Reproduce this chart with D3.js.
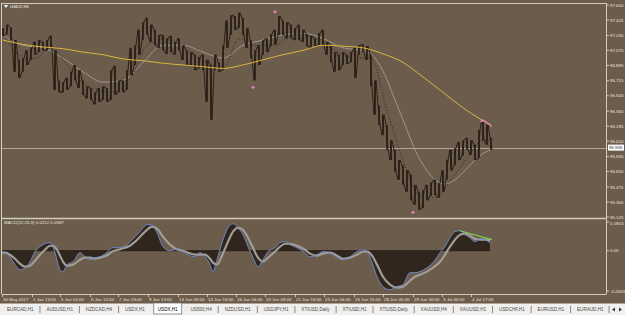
<!DOCTYPE html>
<html><head><meta charset="utf-8">
<script src="https://cdn.jsdelivr.net/npm/d3@7"></script>
<style>body{margin:0;background:#6b5c4b;overflow:hidden}svg{display:block}</style>
</head><body><svg id="c" width="625" height="315"></svg>
<script>
// ---------- DATA ----------
const symbol = "USDX,H1";
const priceHigh = [97.33,97.37,97.34,97.19,96.96,96.98,97.07,97.10,97.17,97.19,97.17,97.19,97.24,97.07,96.72,96.70,96.75,96.82,96.90,96.84,96.72,96.65,96.63,96.58,96.63,96.65,96.63,96.84,96.89,96.72,96.72,96.84,97.10,97.13,97.31,97.40,97.45,97.37,97.31,97.25,97.25,97.21,97.24,97.17,97.21,97.13,97.07,97.05,97.02,96.99,97.02,96.96,96.90,97.02,96.93,97.13,97.42,97.48,97.47,97.51,97.45,97.33,97.19,97.07,97.13,97.19,97.21,97.26,97.31,97.47,97.42,97.40,97.37,97.33,97.37,97.31,97.26,97.24,97.21,97.27,97.31,97.17,97.13,97.05,97.02,97.05,97.02,97.05,97.10,97.13,97.14,97.12,97.02,96.72,96.43,96.32,96.20,96.02,95.91,95.79,95.73,95.67,95.62,95.50,95.42,95.44,95.50,95.53,95.56,95.52,95.67,95.79,95.91,95.93,96.00,96.02,96.05,96.02,95.97,96.14,96.26,96.20,96.05];
const priceLow = [97.24,97.26,97.19,96.82,96.75,96.82,96.90,96.96,97.02,97.05,97.07,97.07,97.10,96.61,96.58,96.58,96.61,96.65,96.72,96.63,96.55,96.51,96.49,96.44,96.47,96.49,96.47,96.49,96.55,96.58,96.58,96.61,96.78,96.90,97.02,97.19,97.25,97.17,97.13,97.10,97.07,97.03,97.05,97.02,97.07,96.96,96.90,96.89,96.84,96.86,96.84,96.47,96.26,96.84,96.82,96.84,97.10,97.25,97.31,97.33,97.25,97.10,96.98,96.72,96.90,97.02,97.05,97.12,97.14,97.25,97.25,97.21,97.21,97.19,97.19,97.17,97.12,97.10,97.12,97.13,97.13,97.02,96.93,96.82,96.84,96.90,96.91,96.93,96.75,97.02,97.05,96.96,96.65,96.32,96.20,96.08,95.91,95.79,95.65,95.56,95.50,95.42,95.32,95.27,95.21,95.23,95.32,95.37,95.38,95.35,95.42,95.56,95.67,95.73,95.79,95.84,95.91,95.85,95.79,95.81,96.02,95.97,95.91];
const lastPrice = 95.935;

const maSlowSlot = [3,23,43,63,83,103,123,143,163,183,203,223,243,263,283,303,323,343,363,383,403,423,443,463,483,491];
const maSlow = [97.19,97.14,97.11,97.09,97.05,97.02,96.97,96.95,96.92,96.90,96.88,96.86,96.90,96.96,97.02,97.07,97.13,97.12,97.10,97.03,96.93,96.76,96.58,96.40,96.25,96.20];

const maMidSlot = [3,23,43,63,83,103,123,143,163,183,203,223,243,263,283,303,323,343,363,375,385,395,405,415,425,435,445,455,465,475,485,491];
const maMid = [97.25,97.13,97.10,96.98,96.82,96.70,96.72,96.93,97.13,97.13,97.05,96.98,97.13,97.19,97.25,97.27,97.21,97.10,97.07,96.98,96.78,96.49,96.20,95.91,95.70,95.56,95.51,95.56,95.67,95.79,95.88,95.91];

const maFastSlot = [3,19,35,51,71,91,111,131,147,167,187,207,223,239,255,275,295,315,335,355,371,387,403,419,435,451,467,483,491];
const maFast = [97.28,97.02,96.98,97.10,96.84,96.63,96.58,96.75,97.13,97.21,97.07,96.93,96.86,97.21,97.13,97.13,97.27,97.21,97.07,96.98,96.98,96.37,95.79,95.38,95.35,95.56,95.81,96.02,96.02];

const fractalSlot = [275,253,482,413];
const fractalPrice = [97.52,96.64,96.25,95.18];

const divPriceSlot = [483,492];
const divPrice = [96.26,96.18];

const priceTicks = ["97.600","97.425","97.245","97.070","96.895","96.715","96.540","96.360","96.185","96.010","95.830","95.655","95.475","95.300","95.125"];

const macdSlot = [0,5,10,15,20,25,30,35,40,45,50,53,57,60,63,67,73,80,85,90,95,100,108,112,118,125,130,135,140,147,152,157,163,170,178,183,188,195,200,205,210,213,217,222,228,233,238,243,248,253,258,263,268,275,280,285,290,297,305,310,317,323,330,337,343,350,357,363,367,372,377,383,390,397,403,410,415,420,427,433,440,445,450,455,460,465,470,475,480,485,490];
const macdMain = [-0.006,-0.013,-0.039,-0.090,-0.123,-0.110,-0.071,-0.006,0.026,0.045,0.052,0.026,-0.058,-0.123,-0.135,-0.090,-0.071,-0.013,-0.039,-0.058,-0.045,-0.039,-0.006,0.019,0.019,0.026,0.058,0.090,0.123,0.168,0.168,0.116,0.026,0,0.013,-0.006,-0.026,-0.039,-0.013,-0.039,-0.090,-0.135,-0.058,0.052,0.148,0.174,0.148,0.103,0.026,-0.045,-0.103,-0.058,-0.006,0.019,0.052,0.058,0.039,0.019,-0.013,-0.039,-0.026,-0.006,-0.013,-0.045,-0.058,-0.039,-0.006,0.006,-0.006,-0.077,-0.168,-0.232,-0.252,-0.232,-0.219,-0.142,-0.142,-0.135,-0.110,-0.077,-0.013,0.026,0.084,0.123,0.129,0.103,0.084,0.058,0.077,0.071,0.052];
const macdSignal = [-0.013,-0.013,-0.026,-0.052,-0.084,-0.103,-0.097,-0.065,-0.026,0.006,0.032,0.032,0.006,-0.032,-0.071,-0.097,-0.090,-0.058,-0.045,-0.045,-0.052,-0.045,-0.026,-0.006,0.006,0.019,0.032,0.058,0.090,0.135,0.155,0.142,0.090,0.039,0.006,0,-0.013,-0.026,-0.026,-0.026,-0.052,-0.077,-0.090,-0.032,0.058,0.123,0.148,0.135,0.084,0.019,-0.045,-0.071,-0.045,-0.006,0.026,0.045,0.045,0.032,0.006,-0.019,-0.032,-0.019,-0.013,-0.032,-0.052,-0.045,-0.026,-0.006,-0.006,-0.032,-0.090,-0.168,-0.219,-0.239,-0.232,-0.194,-0.168,-0.155,-0.135,-0.110,-0.071,-0.026,0.026,0.071,0.103,0.110,0.097,0.077,0.071,0.071,0.065];
const macdLabel = "MACD(12,26,9) 0.0212 0.0587";
const macdTicks = ["0.1853","0.00","-0.2603"];
const divMacdSlot = [460,492];
const divMacd = [0.129,0.071];

const timeLabels = ["30 May 2017","1 Jun 13:00","5 Jun 01:00","6 Jun 12:00","7 Jun 23:00","9 Jun 13:00","13 Jun 03:00","14 Jun 14:00","16 Jun 04:00","20 Jun 03:00","21 Jun 14:00","23 Jun 04:00","26 Jun 15:00","28 Jun 05:00","29 Jun 16:00","3 Jul 06:00","4 Jul 17:00"];
const timeSlot = [2,32,60,90,118,148,178,207,236,265,295,324,354,383,413,442,471];

const tabs = ["EURCAD,H1","AUDUSD,H1","NZDCAD,H4","USDX,H1","USDX,H1","US500,H4","NZDUSD,H1","USDJPY,H1","XTIUSD,Daily","XTIUSD,H1","XTIUSD,Daily","XAUUSD,H4","XAUUSD,H1","USDCHF,H1","EURUSD,H1","EURAUD,H1"];
const activeTab = 4;

// ---------- DRAW ----------
const svg = d3.select("#c");
const W = 625, H = 315;
const L = 2, R = 606, mainTop = 3, mainBot = 218, macdTop = 220, macdBot = 294;
const font = "'Liberation Sans Narrow','Liberation Sans', Arial, sans-serif";
const frame = "#d2cbc0", txt = "#ebe6dc", bar = "#2b2119";
const fs = 4.4;

svg.append("rect").attr("width", W).attr("height", H).attr("fill", "#6b5c4b");

const x = d3.scaleLinear().domain([0, 600]).range([0, 600]);
const y = d3.scaleLinear().domain([95.125, 97.600]).range([217, 5]);
const ym = d3.scaleLinear().domain([-0.2603, 0.1853]).range([291, 222]);

const defs = svg.append("defs");
defs.append("clipPath").attr("id","cm").append("rect").attr("x",L).attr("y",mainTop).attr("width",R-L).attr("height",mainBot-mainTop);
defs.append("clipPath").attr("id","cd").append("rect").attr("x",L).attr("y",macdTop).attr("width",R-L).attr("height",macdBot-macdTop);

const gm = svg.append("g").attr("clip-path","url(#cm)");
gm.append("line").attr("x1",L).attr("x2",R).attr("y1",Math.round(y(lastPrice))+0.5).attr("y2",Math.round(y(lastPrice))+0.5)
  .attr("stroke","#b3a897").attr("stroke-width",1);

const priceData = priceHigh.map((h,i)=>({slot:3+4*i, h, l:priceLow[i]}));

gm.append("path").attr("d", d3.line().x((d,i)=>x(maMidSlot[i])).y(d=>y(d)).curve(d3.curveMonotoneX)(maMid))
  .attr("fill","none").attr("stroke","#9c978f").attr("stroke-width",1);
gm.selectAll("rect.b").data(priceData).join("rect").attr("class","b")
  .attr("x",d=>x(d.slot)-0.9).attr("width",1.8)
  .attr("y",d=>y(d.h)).attr("height",d=>Math.max(1,y(d.l)-y(d.h)))
  .attr("fill",bar);
const zz = [];
priceData.forEach((d,i)=>{
  if(i%2===0){ zz.push([x(d.slot)-1, y(d.h)]); zz.push([x(d.slot)+1, y(d.l)]); }
  else { zz.push([x(d.slot)-1, y(d.l)]); zz.push([x(d.slot)+1, y(d.h)]); }
});
gm.append("path").attr("d", d3.line()(zz)).attr("fill","none").attr("stroke",bar).attr("stroke-width",1);
gm.append("path").attr("d", d3.line().x((d,i)=>x(maFastSlot[i])).y(d=>y(d)).curve(d3.curveMonotoneX)(maFast))
  .attr("fill","none").attr("stroke","#2b2119").attr("stroke-width",0.9).attr("stroke-dasharray","1,2");
gm.append("path").attr("d", d3.line().x((d,i)=>x(maSlowSlot[i])).y(d=>y(d)).curve(d3.curveMonotoneX)(maSlow))
  .attr("fill","none").attr("stroke","#dcb43a").attr("stroke-width",1);
gm.append("path").attr("d", d3.line().x((d,i)=>x(divPriceSlot[i])).y(d=>y(d))(divPrice))
  .attr("fill","none").attr("stroke","#e08aa8").attr("stroke-width",1.2);
gm.selectAll("circle.f").data(fractalPrice).join("circle").attr("class","f")
  .attr("cx",(d,i)=>x(fractalSlot[i])).attr("cy",d=>y(d)).attr("r",1.5).attr("fill","#d883b6");

// MACD panel
const gd = svg.append("g").attr("clip-path","url(#cd)");
gd.append("path").attr("d", d3.area().x((d,i)=>x(macdSlot[i])).y0(ym(0)).y1(d=>ym(d)).curve(d3.curveMonotoneX)(macdMain))
  .attr("fill","#30261d");
gd.append("line").attr("x1",L).attr("x2",x(macdSlot[macdSlot.length-1])).attr("y1",ym(0)).attr("y2",ym(0)).attr("stroke",bar).attr("stroke-width",1);
gd.append("path").attr("d", d3.line().x((d,i)=>x(macdSlot[i])).y(d=>ym(d)).curve(d3.curveMonotoneX)(macdSignal))
  .attr("fill","none").attr("stroke","#a19c94").attr("stroke-width",2.2);
gd.append("path").attr("d", d3.line().x((d,i)=>x(macdSlot[i])).y(d=>ym(d)).curve(d3.curveMonotoneX)(macdMain))
  .attr("fill","none").attr("stroke","#6f8fd8").attr("stroke-width",0.9);
gd.append("path").attr("d", d3.line().x((d,i)=>x(divMacdSlot[i])).y(d=>ym(d))(divMacd))
  .attr("fill","none").attr("stroke","#7ed04e").attr("stroke-width",1.2);

// frames
const fr = svg.append("g").attr("fill","none").attr("stroke",frame);
fr.append("line").attr("x1",L-0.5).attr("x2",R).attr("y1",mainTop+0.5).attr("y2",mainTop+0.5);
fr.append("line").attr("x1",L-0.5).attr("x2",L-0.5).attr("y1",mainTop).attr("y2",macdBot);
fr.append("line").attr("x1",R+0.5).attr("x2",R+0.5).attr("y1",mainTop).attr("y2",macdBot+0.5);
fr.append("line").attr("x1",L).attr("x2",R).attr("y1",mainBot+0.5).attr("y2",mainBot+0.5).attr("stroke-width",1.4);
fr.append("line").attr("x1",L).attr("x2",R).attr("y1",macdBot+0.5).attr("y2",macdBot+0.5);

// price axis
const pa = svg.append("g");
priceTicks.forEach(t=>{
  const yy = y(+t);
  pa.append("line").attr("x1",R).attr("x2",R+3).attr("y1",yy).attr("y2",yy).attr("stroke",frame);
  pa.append("text").attr("x",R+4).attr("y",yy).attr("dy","0.35em").attr("fill",txt)
    .attr("font-family",font).attr("font-size",fs).text(t);
});
pa.append("rect").attr("x",R+2).attr("y",y(lastPrice)-3).attr("width",16).attr("height",6).attr("fill","#ffffff");
pa.append("text").attr("x",R+3).attr("y",y(lastPrice)).attr("dy","0.35em").attr("fill","#2b2119")
  .attr("font-family",font).attr("font-size",fs).text(lastPrice.toFixed(3));

const macdTickVals = macdTicks.map(Number);
macdTicks.forEach((t,i)=>{
  const yy = ym(macdTickVals[i]);
  pa.append("line").attr("x1",R).attr("x2",R+3).attr("y1",yy).attr("y2",yy).attr("stroke",frame);
  pa.append("text").attr("x",R+4).attr("y",yy + (i===0?1.5:0)).attr("dy","0.35em").attr("fill",txt)
    .attr("font-family",font).attr("font-size",fs).text(t);
});

// time axis
const ta = svg.append("g");
timeLabels.forEach((t,i)=>{
  const xx = x(timeSlot[i]);
  ta.append("line").attr("x1",xx+0.5).attr("x2",xx+0.5).attr("y1",macdBot).attr("y2",macdBot+3).attr("stroke",frame);
  ta.append("text").attr("x",xx+1).attr("y",299).attr("dy","0.35em").attr("fill",txt)
    .attr("font-family",font).attr("font-size",fs).text(t);
});

// labels
svg.append("path").attr("d","M4,5 L8,5 L6,8 Z").attr("fill","#ffffff");
svg.append("text").attr("x",10).attr("y",6.5).attr("dy","0.35em").attr("fill","#ffffff")
  .attr("font-family",font).attr("font-size",fs).text(symbol);
svg.append("text").attr("x",4).attr("y",222.5).attr("dy","0.35em").attr("fill",txt)
  .attr("font-family",font).attr("font-size",fs).text(macdLabel);

// tab bar: spread tabs between x=7 and the last tab start at 577
const tb = svg.append("g");
tb.append("rect").attr("x",0).attr("y",303).attr("width",W).attr("height",12).attr("fill","#f0efed");
tb.append("line").attr("x1",0).attr("x2",W).attr("y1",303.5).attr("y2",303.5).attr("stroke","#a9a49c");
const tabEls = tabs.map(t => tb.append("text").attr("y",309.5).attr("dy","0.35em")
  .attr("font-family","'Liberation Sans', Arial, sans-serif").attr("font-size",4.6).attr("fill","#4a4a4a").text(t));
const widths = tabEls.map(e => e.node().getComputedTextLength());
const sumW = d3.sum(widths.slice(0, widths.length-1));
const gap = (577 - 7 - sumW) / (tabs.length - 1);
let cx = 7;
tabEls.forEach((el,i)=>{
  const w = widths[i];
  el.attr("x", cx);
  if(i===activeTab){
    tb.insert("rect","text").attr("x",cx-4).attr("y",303).attr("width",w+8).attr("height",11)
      .attr("fill","#ffffff").attr("stroke","#7a7a7a").attr("stroke-width",0.8);
    el.attr("fill","#000");
  }
  if(i<tabs.length-1 && i!==activeTab && i+1!==activeTab){
    tb.append("line").attr("x1",cx+w+gap/2).attr("x2",cx+w+gap/2).attr("y1",306).attr("y2",313).attr("stroke","#888");
  }
  cx = cx + w + gap;
});
tb.append("line").attr("x1",609).attr("x2",609).attr("y1",306).attr("y2",313).attr("stroke","#888");
tb.append("path").attr("d","M612,309.5 L615,307.5 L615,311.5 Z").attr("fill","#333");
tb.append("path").attr("d","M619,307.5 L622,309.5 L619,311.5 Z").attr("fill","#333");
</script></body></html>
